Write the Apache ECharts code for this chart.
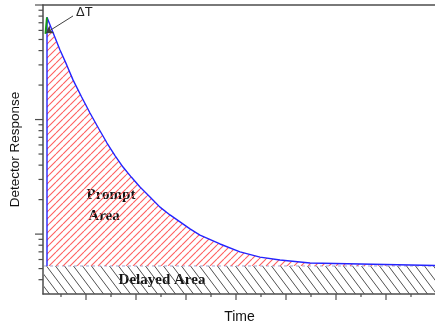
<!DOCTYPE html>
<html>
<head>
<meta charset="utf-8">
<script src="https://cdn.jsdelivr.net/npm/echarts@6/dist/echarts.min.js"></script>
<style>
html,body{margin:0;padding:0;background:#fff;}
#c{width:435px;height:324px;}
</style>
</head>
<body>
<div id="c"></div>
<script>
// ---- data ----
const promptTime  = [0.22, 0.22, 0.346, 0.48, 0.614, 0.74, 0.91, 1.08, 1.25, 1.42, 1.58, 1.74, 1.91, 2.08, 2.28, 2.48, 2.68, 2.88, 3.08, 3.28, 3.68, 4.08, 4.48, 4.88, 5.48, 6.48, 8.0];
const promptValue = [5.27, 781, 566, 405, 300, 222, 158, 114, 84, 62.4, 48.5, 38.5, 31.3, 25.8, 21.1, 17.2, 14.7, 12.8, 11.1, 9.8, 8.2, 7.0, 6.3, 5.94, 5.59, 5.48, 5.32];
const delayedTime  = [0.16, 8.0];
const delayedValue = [5.27, 5.27];
const baselineLevel = 5.27;
const riseTime  = [0.19, 0.22];
const riseValue = [560, 781];
const pointerFrom = [0.74, 802];
const pointerTo   = [0.2, 570];
const xMajorTicks = [1, 2, 3, 4, 5, 6, 7];
const xMinorTicks = [0.5, 1.5, 2.5, 3.5, 4.5, 5.5, 6.5, 7.5];
const yMajorTicks = [10, 100, 1000];
const yMinorTicks = [4, 5, 6, 7, 8, 9, 20, 30, 40, 50, 60, 70, 80, 90, 200, 300, 400, 500, 600, 700, 800, 900];
const xRange = [0.14, 8.0];
const yRange = [3, 1000];

// ---- hatch patterns ----
function hatch(w, h, color, lw, rising) {
  const c = document.createElement('canvas');
  c.width = w; c.height = h;
  const g = c.getContext('2d');
  g.strokeStyle = color; g.lineWidth = lw;
  g.beginPath();
  for (let k = -1; k <= 1; k++) {
    if (rising) { g.moveTo(k * w, h); g.lineTo(k * w + w, 0); }
    else { g.moveTo(k * w, 0); g.lineTo(k * w + w, h); }
  }
  g.stroke();
  return c;
}
const redHatch = hatch(7, 7, '#ff6060', 1.1, true);
const grayHatch = hatch(9, 12, '#505050', 1, false);

const zip = (a, b) => a.map((v, i) => [v, b[i]]);
const tickData = []
  .concat(yMajorTicks.map(v => [xRange[0], v, 0]))
  .concat(yMinorTicks.map(v => [xRange[0], v, 1]))
  .concat(xMajorTicks.map(v => [v, yRange[0], 2]))
  .concat(xMinorTicks.map(v => [v, yRange[0], 3]));
const tickLen = [8, 4.5, 6, 3];
const axisColor = '#4d4d4d';

const chart = echarts.init(document.getElementById('c'), null, {renderer: 'canvas'});
chart.setOption({
  animation: false,
  backgroundColor: '#fff',
  grid: {left: 43, top: 5, right: -1, bottom: 30, containLabel: false, outerBoundsMode: 'none'},
  xAxis: [{
    type: 'value', min: xRange[0], max: xRange[1],
    name: 'Time', nameLocation: 'middle', nameGap: 16,
    nameTextStyle: {fontFamily: 'Liberation Sans', fontSize: 14, color: '#111'},
    axisLine: {show: true, lineStyle: {color: axisColor, width: 1.5}},
    axisTick: {show: false}, axisLabel: {show: false}, splitLine: {show: false}
  }, {
    type: 'value', position: 'top', min: xRange[0], max: xRange[1],
    axisLine: {show: true, lineStyle: {color: axisColor, width: 1.5}},
    axisTick: {show: false}, axisLabel: {show: false}, splitLine: {show: false}
  }],
  yAxis: {
    type: 'log', logBase: 10, min: yRange[0], max: yRange[1],
    name: 'Detector Response', nameLocation: 'middle', nameGap: 21, nameRotate: 90,
    nameTextStyle: {fontFamily: 'Liberation Sans', fontSize: 13.5, color: '#111'},
    axisLine: {show: true, lineStyle: {color: axisColor, width: 1.5}},
    axisTick: {show: false}, axisLabel: {show: false}, splitLine: {show: false}
  },
  series: [{
    name: 'Delayed', type: 'line', data: zip(delayedTime, delayedValue),
    symbol: 'none', z: 2,
    lineStyle: {color: '#a0a4d0', width: 1, type: [3, 3]},
    areaStyle: {color: {image: grayHatch, repeat: 'repeat'}, opacity: 1, origin: 'start'}
  }, {
    name: 'Prompt', type: 'line', data: zip(promptTime, promptValue),
    symbol: 'none', z: 3,
    lineStyle: {color: '#2424ff', width: 1.4},
    areaStyle: {color: {image: redHatch, repeat: 'repeat'}, opacity: 1, origin: baselineLevel}
  }, {
    name: 'Rise', type: 'line', data: zip(riseTime, riseValue),
    symbol: 'none', z: 4,
    lineStyle: {color: '#159a15', width: 2},
    markLine: {
      silent: true, symbol: ['none', 'arrow'], symbolSize: 7,
      lineStyle: {color: '#404040', width: 1, type: 'solid'},
      label: {show: false},
      data: [[{coord: pointerFrom}, {coord: pointerTo}]]
    }
  }, {
    name: 'Ticks', type: 'custom', data: tickData, clip: false, z: 5, silent: true,
    renderItem: function (params, api) {
      const kind = api.value(2);
      const p = api.coord([api.value(0), api.value(1)]);
      const len = tickLen[kind];
      const shape = kind < 2
        ? {x1: p[0] - len, y1: p[1], x2: p[0], y2: p[1]}
        : {x1: p[0], y1: p[1], x2: p[0], y2: p[1] + len};
      return {type: 'line', shape: shape, style: {stroke: axisColor, lineWidth: 1.2}};
    }
  }],
  graphic: [
    {type: 'text', left: 76, top: 6, style: {text: 'ΔT', fontFamily: 'Liberation Sans', fontSize: 13, fill: '#222'}},
    {type: 'text', x: 111, y: 195, style: {text: 'Prompt', fontFamily: 'Liberation Serif', fontWeight: 'bold', fontSize: 15, fill: '#111', align: 'center', verticalAlign: 'middle'}},
    {type: 'text', x: 104, y: 216, style: {text: 'Area', fontFamily: 'Liberation Serif', fontWeight: 'bold', fontSize: 15, fill: '#111', align: 'center', verticalAlign: 'middle'}},
    {type: 'text', x: 162, y: 280, style: {text: 'Delayed Area', fontFamily: 'Liberation Serif', fontWeight: 'bold', fontSize: 15, fill: '#111', align: 'center', verticalAlign: 'middle'}}
  ]
});
</script>
</body>
</html>
